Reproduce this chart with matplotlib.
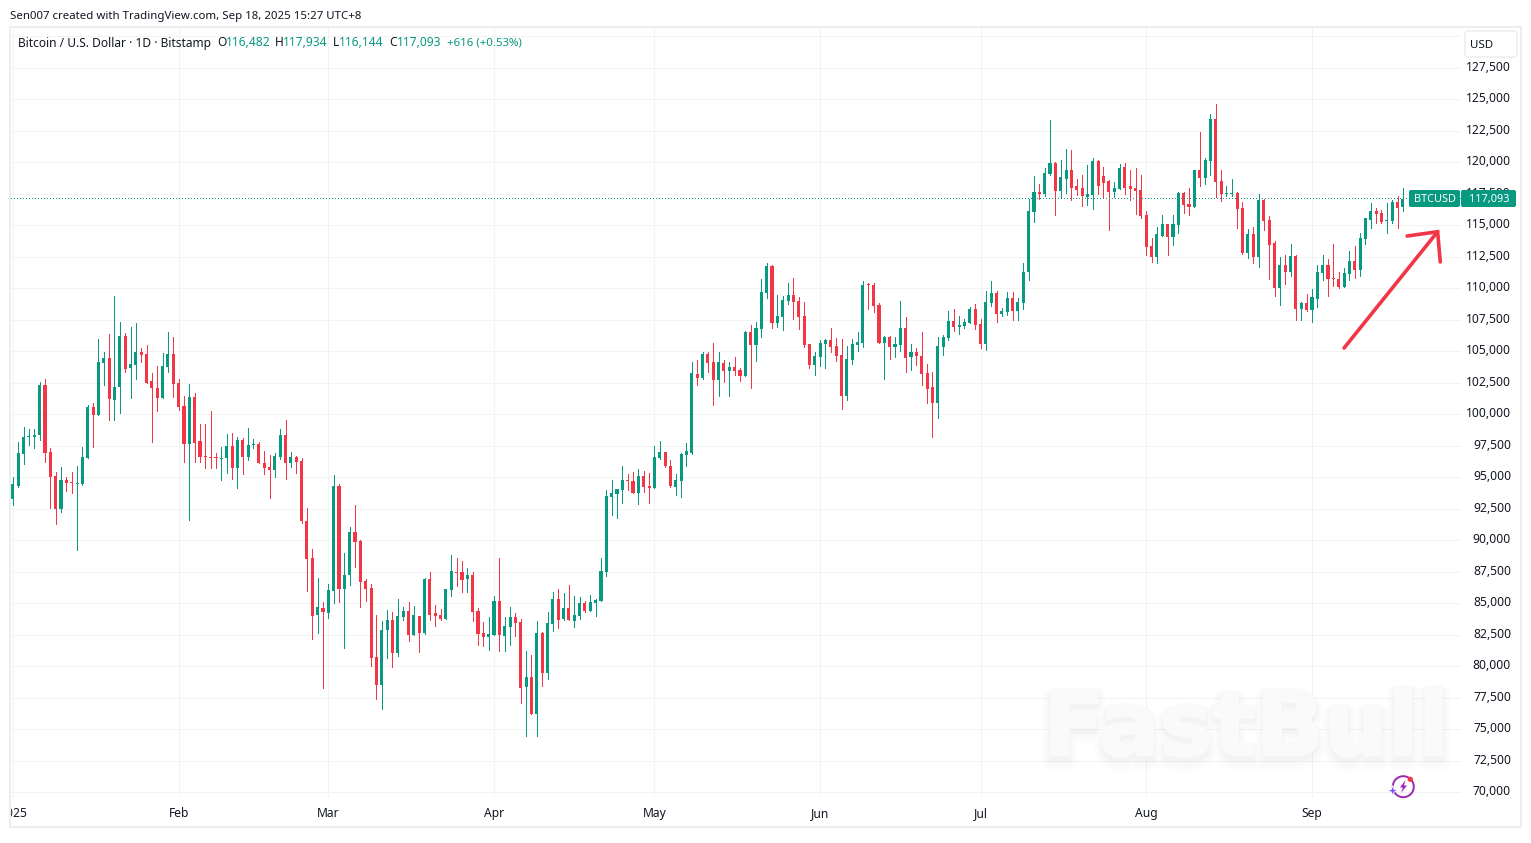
#!/usr/bin/env python3
"""BTCUSD daily candles in the TradingView look."""

import numpy as np
import matplotlib
matplotlib.use('Agg')
import matplotlib.pyplot as plt
import matplotlib.patheffects as pe
from matplotlib.patches import Arc, Circle, FancyBboxPatch, Polygon
from matplotlib.transforms import Bbox, ScaledTranslation

plt.rcParams['font.family'] = ['Noto Sans', 'DejaVu Sans']

GREEN = '#089981'
RED = '#F23645'
GRID = '#F3F3F3'
FRAME = '#EEEEEE'
TEXT = '#131722'

opens = [
    93270, 94300, 96830, 98180, 98180, 98340, 102300, 96990, 95090, 92480,
    94780, 94620, 94460, 94460, 96520, 100560, 99920, 104040, 104440, 101110,
    102140, 106180, 103650, 103880, 104910, 104750, 102620, 102060, 101270, 103730,
    104750, 102460, 100640, 97650, 101350, 97890, 96700, 96620, 96620, 96460,
    96540, 97490, 95750, 97970, 96620, 97570, 97650, 96140, 95830, 95590,
    96620, 98360, 96140, 96620, 96300, 91550, 88620, 84100, 84660, 84260,
    85980, 94320, 86160, 87270, 90680, 89930, 86770, 86210, 80750, 78530,
    82890, 83680, 81060, 83920, 84390, 82490, 83990, 82650, 86920, 84230,
    84070, 83760, 86050, 87480, 87480, 86920, 87240, 84390, 82650, 82330,
    82490, 85180, 82410, 83120, 83920, 83520, 78370, 79170, 76240, 82650,
    79480, 83360, 85340, 83760, 84630, 83600, 83990, 85020, 84390, 85020,
    85180, 87480, 93410, 93650, 93970, 94760, 94680, 93730, 95070, 94280,
    94120, 96500, 96970, 95870, 94200, 94680, 96740, 96950, 103220, 102900,
    104800, 104170, 102740, 104090, 103450, 103770, 103530, 103060, 106550, 105520,
    106790, 109640, 111790, 107260, 107740, 109010, 109480, 109010, 107820, 105600,
    103930, 104570, 105600, 105910, 105440, 104720, 101470, 104330, 105520, 105680,
    110360, 110280, 108690, 105680, 106150, 105360, 105520, 106870, 104570, 104960,
    104640, 103300, 102180, 100920, 105360, 106070, 107420, 106950, 107030, 107260,
    108370, 107180, 105600, 108850, 109640, 107980, 108140, 109250, 108220, 108850,
    111260, 116020, 117610, 117450, 119110, 119910, 117760, 118640, 119350, 118080,
    118000, 117210, 117370, 120070, 118880, 118480, 117610, 117920, 119590, 118080,
    118000, 117840, 115780, 113320, 112450, 114190, 115070, 114110, 114990, 117530,
    116730, 116490, 119350, 118720, 120070, 123400, 118480, 117450, 117450, 117530,
    116340, 112840, 114270, 112450, 116970, 115460, 113560, 110060, 111810, 111260,
    112600, 108320, 108870, 108240, 109190, 111180, 111810, 110780, 110700, 110140,
    111100, 112130, 111490, 113950, 115420, 116140, 115980, 115340, 115340, 116850,
    116482,
]
highs = [
    95010, 97790, 98970, 98810, 98810, 102540, 102770, 97310, 95410, 95800,
    95010, 95410, 95880, 97390, 100720, 100870, 105940, 104910, 106340, 109350,
    107290, 106420, 106890, 107210, 105230, 105470, 103250, 103800, 104830, 106500,
    106100, 102770, 101430, 102400, 101700, 99230, 99230, 100260, 96940, 97410,
    98440, 98520, 98200, 98120, 98920, 98050, 97810, 97100, 96780, 96940,
    98840, 99550, 97020, 96700, 96540, 92580, 89330, 87030, 85130, 86560,
    95190, 94480, 89010, 91070, 92820, 90000, 86920, 86530, 84070, 83600,
    84470, 84310, 85340, 84710, 85100, 84790, 83990, 87000, 87480, 84870,
    84550, 86130, 88830, 88590, 88350, 87800, 87480, 84630, 83520, 83920,
    85580, 88590, 83920, 84710, 84230, 83760, 81220, 80910, 83600, 82730,
    84310, 85890, 86130, 85810, 86450, 85580, 85500, 85180, 85660, 85340,
    88580, 93970, 94760, 94050, 95870, 95230, 95390, 95630, 95470, 95310,
    97450, 97920, 96970, 96340, 95230, 96890, 97760, 104170, 104330, 104960,
    104960, 105680, 104960, 104330, 104170, 104570, 103690, 106630, 107100, 107340,
    110750, 112020, 111870, 109480, 109410, 110440, 110830, 109330, 108930, 105600,
    104960, 105910, 105990, 106870, 106070, 105990, 105440, 105990, 106550, 110600,
    110440, 110440, 108850, 106230, 106230, 106150, 109010, 107740, 105600, 105280,
    106550, 104010, 103370, 106150, 106310, 108220, 108370, 107820, 107580, 108530,
    108770, 107580, 109800, 110600, 109800, 108450, 109720, 109720, 109250, 112020,
    117050, 118880, 118240, 119510, 123320, 119990, 120150, 121020, 120940, 118640,
    118960, 119750, 120380, 120220, 119590, 118560, 118400, 119830, 119910, 119350,
    119510, 118960, 116100, 114030, 114830, 115780, 115140, 115780, 117680, 117680,
    118000, 119350, 122370, 120380, 123800, 124590, 119350, 118080, 118640, 117680,
    116810, 114670, 114830, 117450, 117050, 115700, 113720, 112450, 112680, 113480,
    112680, 108950, 109510, 109910, 111810, 112680, 112290, 113480, 111330, 111650,
    113000, 113320, 114350, 115540, 116770, 116380, 116220, 116770, 117010, 117330,
    117934,
]
lows = [
    92800, 94220, 96040, 97550, 97310, 97940, 96200, 92560, 91290, 92240,
    93900, 93750, 89230, 94380, 96520, 97390, 99920, 102300, 99530, 99530,
    100080, 103330, 101270, 102770, 104120, 102460, 97790, 100240, 101270, 103330,
    101350, 100320, 96200, 91630, 96200, 96220, 95750, 95750, 95750, 94800,
    95350, 94880, 94160, 95270, 96380, 97330, 96140, 95270, 93370, 95030,
    96460, 94880, 95830, 95350, 91390, 86000, 82200, 82680, 78240, 83860,
    85050, 85130, 81490, 86480, 87900, 84710, 85180, 80030, 77420, 76630,
    80670, 79960, 80830, 83680, 82010, 82490, 81140, 82570, 83680, 83200,
    83680, 83760, 85580, 86370, 85900, 85900, 83600, 81700, 81620, 81300,
    82490, 81220, 81220, 81700, 82410, 77100, 74490, 76200, 74500, 78450,
    79010, 82810, 83040, 83680, 83680, 83120, 83760, 84310, 84390, 83990,
    85180, 87160, 91990, 91750, 92940, 93970, 93730, 92860, 93810, 92940,
    94120, 96420, 95810, 94200, 93570, 93410, 95870, 96870, 102340, 102820,
    103370, 100760, 101470, 102580, 101470, 103140, 102660, 103060, 102110, 104250,
    106150, 109250, 106870, 106950, 106710, 108770, 107580, 106790, 105360, 103690,
    103140, 103850, 103690, 104960, 104250, 100440, 101150, 104010, 105040, 105360,
    108370, 108140, 105680, 102820, 104410, 104570, 105040, 103370, 103530, 103930,
    102340, 100920, 98220, 99720, 104720, 105910, 106630, 106390, 106870, 107260,
    106790, 105280, 105120, 108610, 107340, 107820, 107900, 107500, 107500, 108370,
    110620, 115300, 117050, 117290, 119030, 115780, 117130, 117530, 116970, 117370,
    116570, 116650, 116260, 117450, 117210, 114590, 117210, 117920, 117450, 116970,
    115860, 115540, 112680, 112050, 111970, 114190, 112680, 113400, 114350, 115940,
    115780, 116490, 118080, 118240, 118960, 117210, 116890, 117290, 117290, 114750,
    112760, 112370, 111970, 111730, 114590, 110700, 109350, 108710, 110380, 110940,
    107520, 107450, 108160, 107290, 108480, 110620, 109350, 110220, 110060, 110140,
    110620, 110780, 110940, 113480, 114790, 115190, 115190, 114390, 115190, 114790,
    116144,
]
closes = [
    94460, 96910, 98180, 98260, 98340, 102300, 96910, 95010, 92480, 94780,
    94540, 94540, 94540, 96600, 100560, 99920, 104120, 104440, 101190, 102140,
    106180, 103570, 103960, 104910, 104680, 102480, 102060, 101270, 103800, 104750,
    102380, 100560, 97630, 101350, 97750, 96620, 96620, 96540, 96540, 96540,
    97490, 95750, 97970, 96620, 97570, 97650, 96140, 95750, 95590, 96700,
    98360, 96140, 96620, 96220, 91550, 88540, 84020, 84740, 84340, 86080,
    94320, 86160, 87270, 90680, 89890, 86690, 86130, 80670, 78530, 82890,
    83680, 81060, 83990, 84390, 82490, 84070, 82650, 86920, 84070, 83990,
    83760, 86130, 87560, 87400, 86850, 87240, 84310, 82570, 82330, 82570,
    85180, 82490, 83200, 83920, 83440, 78290, 79160, 76240, 82650, 79480,
    83440, 85340, 83680, 84630, 83680, 84070, 85020, 84390, 85100, 85260,
    87560, 93490, 93730, 94050, 94760, 94680, 93730, 95070, 94200, 94120,
    96580, 96970, 95870, 94280, 94760, 96820, 97050, 103300, 102900, 104800,
    104090, 102740, 104170, 103450, 103770, 103450, 103060, 106550, 105520, 106870,
    109720, 111790, 107260, 107820, 109090, 109480, 108930, 107740, 105520, 103930,
    104640, 105680, 105910, 105360, 104640, 101470, 104410, 105600, 105760, 110280,
    110280, 108610, 105680, 106150, 105360, 105600, 106870, 104490, 104960, 104640,
    103220, 102030, 100920, 105440, 106150, 107420, 106950, 107100, 107340, 108370,
    107100, 105600, 108930, 109640, 107980, 108220, 109250, 108220, 108930, 111310,
    116100, 117610, 117450, 119190, 119910, 117760, 118800, 119350, 118000, 117840,
    117290, 117450, 120070, 118080, 118320, 117610, 118000, 119510, 118000, 117920,
    117760, 115700, 113240, 112450, 114270, 115070, 114110, 115070, 117530, 116650,
    116490, 119350, 118720, 120150, 123400, 118400, 117450, 117530, 117530, 116260,
    112840, 114270, 112450, 116970, 115380, 113400, 110060, 111810, 111260, 112600,
    108320, 108870, 108240, 109270, 111260, 111810, 110700, 110700, 110140, 111180,
    112130, 111490, 114030, 115540, 116140, 115900, 115270, 115420, 116850, 116380,
    117093,
]

month_days = [0, 31, 59, 90, 120, 151, 181, 212, 243]
month_labels = ['2025', 'Feb', 'Mar', 'Apr', 'May', 'Jun', 'Jul', 'Aug', 'Sep']
price_ticks = list(range(70000, 130001, 2500))

last_price = 117093
arrow_days = [249, 266.5]
arrow_prices = [105260, 114490]
arrow_head_days = [260.8, 266.5, 267]
arrow_head_prices = [114150, 114490, 112090]

fig = plt.figure(figsize=(15.31, 8.43), dpi=100, facecolor='white')

# chart pane, placed in figure pixels so it lines up with the screenshot
left, right, top, bottom = 11, 1461, 28, 797
ax = fig.add_axes([left / 1531, 1 - bottom / 843, (right - left) / 1531, (bottom - top) / 843])
ax.set_xlim((left - 12.9) / 5.346, (right - 12.9) / 5.346)
ax.set_ylim(100000 - (bottom - 414.3) / 0.0126, 100000 + (414.3 - top) / 0.0126)
for side in ax.spines.values():
    side.set_visible(False)

ax.set_axisbelow(True)
ax.grid(True, color=GRID, linewidth=0.72)
ax.set_xticks(month_days)
ax.set_xticklabels(month_labels, fontsize=8.7, color=TEXT)
ax.set_yticks(price_ticks)
ax.set_yticklabels([f'{p:,}' if p < 130000 else '' for p in price_ticks], fontsize=8.7, color=TEXT, ha='right')
ax.yaxis.tick_right()
ax.tick_params(axis='both', length=0)
ax.tick_params(axis='y', pad=36)
ax.tick_params(axis='x', pad=7)

# labels sit a little above their gridlines
nudge = ScaledTranslation(0, 2 / 100, fig.dpi_scale_trans)
for label in ax.get_yticklabels():
    label.set_transform(label.get_transform() + nudge)

# first month label is cut off by the pane edge
year_label = ax.get_xticklabels()[0]
year_label.set_fontweight('bold')
year_label.set_clip_box(Bbox([[10, 0], [1531, 843]]))
year_label.set_clip_on(True)

days = np.arange(len(opens))
o, h, l, c = map(np.array, (opens, highs, lows, closes))
colors = np.where(c >= o, GREEN, RED)

ax.vlines(days, l, h, colors=colors, linewidth=0.72, antialiased=False, zorder=3)
ax.bar(days, np.abs(c - o), bottom=np.minimum(o, c), width=0.58, color=colors, linewidth=0, zorder=4)

# dotted last price line, one pixel dot every three pixels
dot_days = np.arange(*ax.get_xlim(), 3 / 5.346)
ax.plot(dot_days, np.full(dot_days.shape, last_price), linestyle='none', marker=',', color=GREEN, zorder=5)

ax.plot(arrow_days, arrow_prices, color=RED, linewidth=2.6, solid_capstyle='round', zorder=6)
ax.plot(arrow_head_days, arrow_head_prices, color=RED, linewidth=2.6, solid_capstyle='round',
        solid_joinstyle='miter', zorder=6)

# overlay in screen pixels for the TradingView chrome
ui = fig.add_axes([0, 0, 1, 1], facecolor='none')
ui.set_xlim(0, 1531)
ui.set_ylim(843, 0)
ui.axis('off')

ui.plot([10, 1521, 1521, 10, 10], [27, 27, 827, 827, 27], color=FRAME, linewidth=1.5)

# watermark with a soft shadow under the letters
mark = ui.text(1246, 730, 'FastBull', fontsize=64.5, fontweight='bold', family='DejaVu Sans',
               color='#FAFAFA', ha='center', va='center', zorder=1)
mark.set_path_effects([
    pe.Stroke(linewidth=12, foreground='black', alpha=0.010, offset=(0, -5)),
    pe.Stroke(linewidth=8, foreground='black', alpha=0.012, offset=(0, -4)),
    pe.Stroke(linewidth=4, foreground='black', alpha=0.014, offset=(0, -3)),
    pe.withStroke(linewidth=2, foreground='#FAFAFA'),
])

ui.text(10, 16, 'Sen007 created with TradingView.com, Sep 18, 2025 15:27 UTC+8',
        fontsize=8.25, color=TEXT, va='center')

ui.text(18, 43, 'Bitcoin / U.S. Dollar · 1D · Bitstamp', fontsize=8.6, color=TEXT, va='center')
for x, value_x, label, value in [(217, 226, 'O', '116,482'), (275, 283, 'H', '117,934'),
                                 (333, 339, 'L', '116,144'), (389, 397, 'C', '117,093')]:
    ui.text(x, 43, label, fontsize=8.6, color=TEXT, va='center')
    ui.text(value_x, 43, value, fontsize=8.65, color=GREEN, va='center')
ui.text(447, 43, '+616 (+0.53%)', fontsize=8.2, color=GREEN, va='center')

# currency button
ui.add_patch(FancyBboxPatch((1465, 31), 52, 26, boxstyle='round,pad=0,rounding_size=3',
                            facecolor='white', edgecolor='#E6E6E6', linewidth=0.8, zorder=5))
ui.text(1482, 45, 'USD', fontsize=8.3, color=TEXT, ha='center', va='center', zorder=6)

# last price tags
ui.add_patch(FancyBboxPatch((1409, 190), 51, 17, boxstyle='round,pad=0,rounding_size=2',
                            facecolor=GREEN, edgecolor='none', zorder=5))
ui.add_patch(FancyBboxPatch((1461, 190), 55, 17, boxstyle='round,pad=0,rounding_size=2',
                            facecolor=GREEN, edgecolor='none', zorder=5))
ui.text(1434.5, 199.5, 'BTCUSD', fontsize=7.9, fontweight='bold', color='white', ha='center', va='center', zorder=6)
ui.text(1489, 199.5, f'{last_price:,}', fontsize=7.9, fontweight='bold', color='white', ha='center', va='center', zorder=6)

# flash icon next to the watermark
ui.add_patch(Arc((1403.3, 786.7), 21, 21, theta1=0, theta2=360, color='#9C27B0', linewidth=1.4, zorder=6))
ui.add_patch(Polygon([[1405.5, 780], [1400, 787.5], [1403, 787.5], [1401, 793], [1407, 785.5], [1404, 785.5]],
                     closed=True, facecolor='#A020C0', edgecolor='none', zorder=7))
ui.add_patch(Polygon([[1392.7, 785.5], [1394, 789.4], [1398, 790.7], [1394, 792], [1392.7, 796],
                      [1391.4, 792], [1387.5, 790.7], [1391.4, 789.4]],
                     closed=True, facecolor='#7A4DFF', edgecolor='white', linewidth=0.6, zorder=7))
ui.add_patch(Circle((1410.3, 779.3), 2.6, facecolor=RED, edgecolor='none', zorder=7))

fig.savefig('out.png', dpi=100)
